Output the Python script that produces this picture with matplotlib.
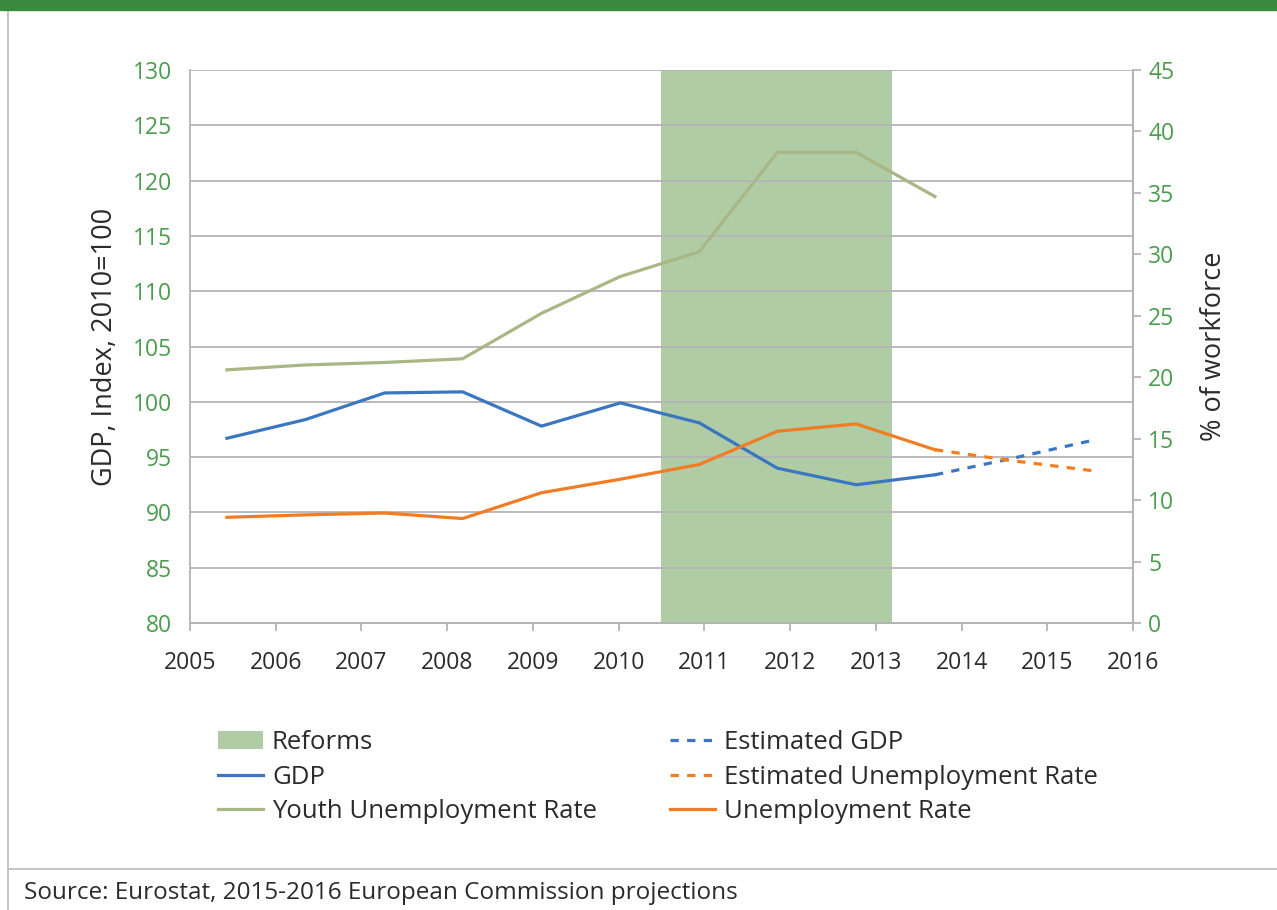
import numpy as np
import matplotlib.pyplot as plt
from matplotlib.patches import Patch, Rectangle
from matplotlib.lines import Line2D

plt.rcParams['font.family'] = ['Open Sans', 'DejaVu Sans']

# positions des points sur l'axe des années (catégories Excel)
xPos = [2005.43, 2006.35, 2007.27, 2008.18, 2009.10, 2010.02,
        2010.94, 2011.85, 2012.77, 2013.69, 2014.60, 2015.52]

gdp = [96.7, 98.4, 100.8, 100.9, 97.8, 99.9, 98.1, 94.0, 92.5, 93.4]
gdpEstime = [93.4, 94.9, 96.5]

chomage = [8.6, 8.8, 8.95, 8.5, 10.6, 11.7, 12.9, 15.6, 16.2, 14.1]
chomageEstime = [14.1, 13.2, 12.4]

chomageJeunes = [20.6, 21.0, 21.2, 21.5, 25.2, 28.2, 30.2, 38.3, 38.3, 34.7]

reformes = (2010.49, 2013.19)
annees = list(range(2005, 2017))

bleu = "#3a77c0"
orange = "#f07d23"
olive = "#a9b685"
vertTexte = "#4c9c4f"
gris = "#b4b4b4"
vertReformes = "#b0cca5"
texte = "#2b2b2b"

fig = plt.figure(figsize=(12.77, 9.10), dpi=100)
ax1 = fig.add_axes([190/1277, 1 - 623/910, 943/1277, 553/910])
ax2 = ax1.twinx()

ax1.axvspan(reformes[0], reformes[1], color=vertReformes, zorder=0.2, lw=0)

ax1.plot(xPos[:10], gdp, color=bleu, lw=2.3, zorder=3)
ax1.plot(xPos[9:], gdpEstime, color=bleu, lw=2.3, ls=(0, (2.6, 2.6)), zorder=3)

ax2.plot(xPos[:10], chomageJeunes, color=olive, lw=2.3)
ax2.plot(xPos[:10], chomage, color=orange, lw=2.3)
ax2.plot(xPos[9:], chomageEstime, color=orange, lw=2.3, ls=(0, (2.6, 2.6)))

ax1.set_xlim(2005, 2016)
ax1.set_ylim(80, 130)
ax2.set_ylim(0, 45)
ax1.set_xticks(annees)
ax1.set_yticks(range(80, 131, 5))
ax2.set_yticks(range(0, 46, 5))

ax1.set_axisbelow(True)
ax1.yaxis.grid(True, color=gris, lw=1.3, zorder=0.5)

for ax in (ax1, ax2):
    for s in ax.spines.values():
        s.set_color(gris)
        s.set_linewidth(1.3)
ax1.spines['top'].set_visible(False)
ax2.spines['top'].set_visible(False)
ax2.spines['left'].set_visible(False)

ax1.tick_params(axis='x', direction='out', length=6, width=1.3, color=gris,
                labelsize=16.5, labelcolor=texte, pad=14)
ax1.tick_params(axis='y', length=0, labelsize=16.5, labelcolor=vertTexte, pad=13)
ax2.tick_params(axis='y', direction='out', length=6, width=1.3, color=gris,
                labelsize=16.5, labelcolor=vertTexte, pad=5)

ax1.set_ylabel("GDP, Index, 2010=100", fontsize=19.5, color=texte, labelpad=10)
ax2.set_ylabel("% of workforce", fontsize=19.5, color=texte, labelpad=18)

# légende en deux blocs
gauche = [Patch(facecolor=vertReformes, edgecolor='none', label="Reforms"),
          Line2D([], [], color=bleu, lw=2.3, label="GDP"),
          Line2D([], [], color=olive, lw=2.3, label="Youth Unemployment Rate")]
droite = [Line2D([], [], color=bleu, lw=2.3, ls=(0, (2.6, 2.6)), label="Estimated GDP"),
          Line2D([], [], color=orange, lw=2.3, ls=(0, (2.6, 2.6)),
                 label="Estimated Unemployment Rate"),
          Line2D([], [], color=orange, lw=2.3, label="Unemployment Rate")]
for handles, x0 in ((gauche, 218/1277), (droite, 670/1277)):
    leg = fig.legend(handles=handles, loc='upper left',
                     bbox_to_anchor=(x0, 1 - 730/910), frameon=False,
                     fontsize=18.5, handlelength=1.75, handletextpad=0.35,
                     labelspacing=0.37, borderaxespad=0, borderpad=0)
    for t in leg.get_texts():
        t.set_color(texte)

# bandeau et cadre
fig.patches.append(Rectangle((0, 1 - 10/910), 1, 10/910, transform=fig.transFigure,
                             color="#3a8b3e", zorder=5))
fig.add_artist(Line2D([8/1277, 8/1277], [0, 1 - 10/910], transform=fig.transFigure,
                      color="#c0c0c0", lw=1.3))
fig.add_artist(Line2D([8/1277, 1], [1 - 869/910, 1 - 869/910], transform=fig.transFigure,
                      color="#c0c0c0", lw=1.3))

fig.text(24/1277, 1 - 893/910, "Source: Eurostat, 2015-2016 European Commission projections",
         fontsize=17.5, color=texte, va='center', ha='left')

fig.savefig("out.png", dpi=100)
